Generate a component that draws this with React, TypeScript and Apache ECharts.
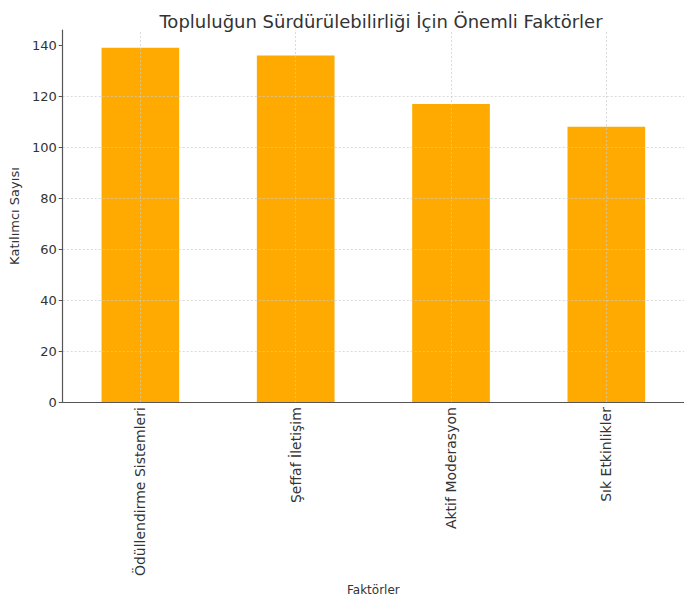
import React, { useEffect, useRef } from "react";
import * as echarts from "echarts";

const titleText = "Topluluğun Sürdürülebilirliği İçin Önemli Faktörler";
const categories = ["Ödüllendirme Sistemleri", "Şeffaf İletişim", "Aktif Moderasyon", "Sık Etkinlikler"];
const values = [139, 136, 117, 108];
const yTicks = [0, 20, 40, 60, 80, 100, 120, 140];
const xName = "Faktörler";
const yName = "Katılımcı Sayısı";

const FONT = "DejaVu Sans";
const GRID = { color: "#cccccc", type: [2, 2], width: 0.8, opacity: 0.9 };

export default function App() {
  const ref = useRef<HTMLDivElement>(null);
  useEffect(() => {
    const chart = echarts.init(ref.current!, null, { renderer: "svg" });
    chart.setOption({
      animation: false,
      backgroundColor: "#ffffff",
      textStyle: { fontFamily: FONT },
      title: {
        text: titleText,
        left: 376,
        textAlign: "center",
        top: 7,
        textStyle: { fontFamily: FONT, fontSize: 18, fontWeight: "normal", color: "#333" },
      },
      grid: { left: 57, right: -9, top: 30, bottom: 190, containLabel: false },
      xAxis: {
        type: "category",
        data: categories,
        name: xName,
        nameLocation: "middle",
        nameGap: 172,
        nameTextStyle: { fontFamily: FONT, fontSize: 12, color: "#333" },
        axisLine: { lineStyle: { color: "#555", width: 1.2 } },
        axisTick: { alignWithLabel: true, length: 4, lineStyle: { color: "#555" } },
        axisLabel: { rotate: 90, fontFamily: FONT, fontSize: 14, color: "#333", margin: 5, interval: 0 },
        splitLine: { show: false },
      },
      yAxis: {
        type: "value",
        min: 0,
        max: 146,
        interval: 20,
        z: 5,
        name: yName,
        nameLocation: "middle",
        nameGap: 38,
        nameTextStyle: { fontFamily: FONT, fontSize: 13, color: "#333" },
        axisLine: { show: true, lineStyle: { color: "#555", width: 1.2 } },
        axisTick: { show: true, length: 4, lineStyle: { color: "#555" }, customValues: yTicks },
        axisLabel: { fontFamily: FONT, fontSize: 13, color: "#333", margin: 6, customValues: yTicks },
        splitLine: { show: true, showMaxLine: false, showMinLine: false, lineStyle: GRID },
      },
      series: [
        {
          type: "bar",
          data: values,
          barWidth: "50%",
          itemStyle: { color: "#FFAA00" },
          markLine: {
            silent: true,
            symbol: "none",
            label: { show: false },
            lineStyle: GRID,
            data: categories.map((c) => ({ xAxis: c })),
          },
        },
      ],
    });
    return () => chart.dispose();
  }, []);
  return <div ref={ref} style={{ position: "absolute", left: 0, top: 0, width: 684, height: 601 }} />;
}
